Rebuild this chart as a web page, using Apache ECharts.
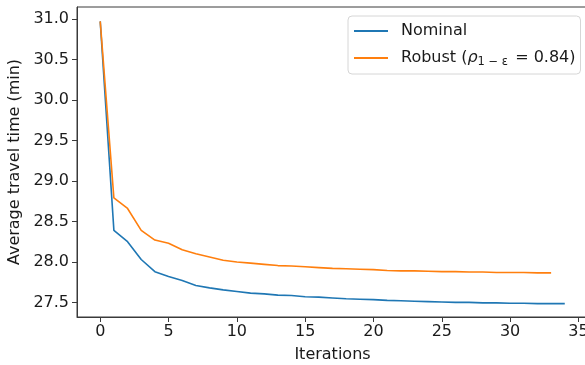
<!DOCTYPE html>
<html>
<head>
<meta charset="utf-8">
<script src="https://cdn.jsdelivr.net/npm/echarts@6/dist/echarts.min.js"></script>
<style>
  html, body { margin: 0; padding: 0; background: #fff; }
  #chart { width: 585px; height: 365px; }
</style>
</head>
<body>
<div id="chart"></div>
<script>
const nominalIter = [0,1,2,3,4,5,6,7,8,9,10,11,12,13,14,15,16,17,18,19,20,21,22,23,24,25,26,27,28,29,30,31,32,33,34];
const nominalTime = [30.97,28.39,28.25,28.03,27.88,27.82,27.77,27.71,27.68,27.655,27.635,27.615,27.605,27.59,27.585,27.57,27.565,27.555,27.545,27.54,27.535,27.525,27.52,27.515,27.51,27.505,27.50,27.50,27.495,27.495,27.49,27.49,27.485,27.485,27.485];
const robustIter = [0,1,2,3,4,5,6,7,8,9,10,11,12,13,14,15,16,17,18,19,20,21,22,23,24,25,26,27,28,29,30,31,32,33];
const robustTime = [30.97,28.79,28.66,28.39,28.27,28.23,28.15,28.10,28.06,28.02,28.0,27.985,27.97,27.955,27.95,27.94,27.93,27.92,27.915,27.91,27.905,27.895,27.89,27.89,27.885,27.88,27.88,27.875,27.875,27.87,27.87,27.87,27.865,27.865];
const xTicks = [0,5,10,15,20,25,30,35];
const yTicks = [27.5,28.0,28.5,29.0,29.5,30.0,30.5,31.0];
const seriesNames = ['Nominal', 'Robust'];

const font = 'DejaVu Sans';
const chart = echarts.init(document.getElementById('chart'), null, {renderer: 'canvas'});
chart.setOption({
  animation: false,
  backgroundColor: '#fff',
  grid: { left: 77, top: 7, right: -3, bottom: 48, outerBoundsMode: 'none', containLabel: false, show: true, borderColor: '#3a3a3a', borderWidth: 1, backgroundColor: 'transparent' },
  legend: {
    orient: 'vertical', left: 348, top: 16,
    backgroundColor: '#fff', borderColor: '#d6d6d6', borderWidth: 1, borderRadius: 4,
    padding: [7, 5, 6, 6], itemGap: 11,
    icon: 'rect', itemWidth: 34, itemHeight: 2,
    data: seriesNames,
    formatter: function (name) {
      return name === 'Robust' ? 'Robust ({r|ρ}{s|1 − ε} = 0.84)' : name;
    },
    textStyle: {
      fontFamily: font, fontSize: 16, color: '#1a1a1a', padding: [0, 0, 0, 8],
      rich: {
        r: { fontFamily: font, fontSize: 16, fontStyle: 'italic', color: '#1a1a1a' },
        s: { fontFamily: font, fontSize: 11.5, color: '#1a1a1a', padding: [8, 2, 0, 0] }
      }
    }
  },
  xAxis: {
    type: 'value', min: -1.7, max: 35.7,
    name: 'Iterations', nameLocation: 'middle', nameGap: 30,
    nameTextStyle: { fontFamily: font, fontSize: 16, color: '#1a1a1a' },
    axisLine: { show: true, onZero: false, lineStyle: { color: '#3a3a3a', width: 1 } },
    axisTick: { show: true, length: 5, lineStyle: { color: '#3a3a3a' }, customValues: xTicks },
    axisLabel: { fontFamily: font, fontSize: 16, color: '#1a1a1a', margin: 7, customValues: xTicks, formatter: v => String(v) },
    splitLine: { show: false }
  },
  yAxis: {
    type: 'value', min: 27.32, max: 31.148,
    name: 'Average travel time (min)', nameLocation: 'middle', nameGap: 53,
    nameTextStyle: { fontFamily: font, fontSize: 16, color: '#1a1a1a' },
    axisLine: { show: true, onZero: false, lineStyle: { color: '#3a3a3a', width: 1 } },
    axisTick: { show: true, length: 5, lineStyle: { color: '#3a3a3a' }, customValues: yTicks },
    axisLabel: { fontFamily: font, fontSize: 16, color: '#1a1a1a', margin: 8, customValues: yTicks, formatter: v => v.toFixed(1) },
    splitLine: { show: false }
  },
  series: [
    {
      name: 'Nominal', type: 'line', symbol: 'none', color: '#1f77b4',
      lineStyle: { width: 1.6, color: '#1f77b4' },
      data: nominalIter.map((x, i) => [x, nominalTime[i]])
    },
    {
      name: 'Robust', type: 'line', symbol: 'none', color: '#ff7f0e',
      lineStyle: { width: 1.6, color: '#ff7f0e' },
      data: robustIter.map((x, i) => [x, robustTime[i]])
    }
  ]
});
</script>
</body>
</html>
